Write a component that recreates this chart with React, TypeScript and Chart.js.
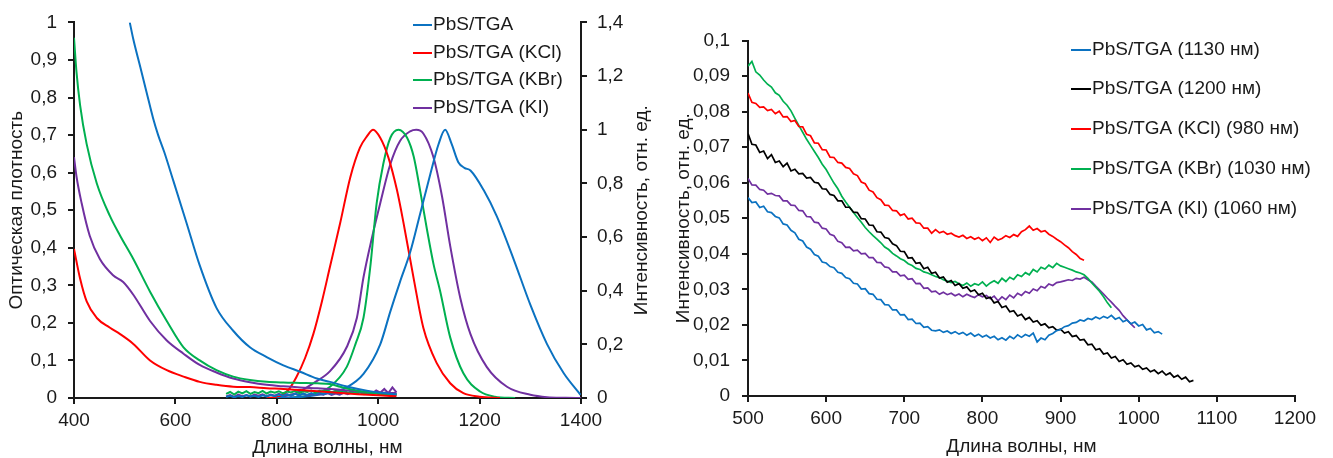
import React, { useEffect, useRef } from 'react';
import { Chart, registerables } from 'chart.js';

Chart.register(...registerables);

const FONT = '"Liberation Sans", Arial, sans-serif';
const TXT = '#1a1a1a';
const AXIS = '#1a1a1a';

// ---------------- Left chart data ----------------
const LEFT_LABELS = ['PbS/TGA', 'PbS/TGA (KCl)', 'PbS/TGA (KBr)', 'PbS/TGA (KI)'];
const LEFT_COLORS = ['#0b72c1', '#ff0000', '#00b050', '#7030a0'];

const LEFT_X_TICKS = [400, 600, 800, 1000, 1200, 1400];

// absorption (left axis)
const ABS_BLUE_X = [510, 517, 530, 543, 556, 566, 578, 596, 622, 648, 681, 714, 747, 780, 813, 846, 879, 905, 940, 980, 1010, 1036];
const ABS_BLUE_Y = [1.0, 0.955, 0.885, 0.815, 0.745, 0.7, 0.655, 0.578, 0.466, 0.353, 0.24, 0.179, 0.135, 0.109, 0.087, 0.07, 0.052, 0.043, 0.03, 0.019, 0.013, 0.01];

const ABS_RED_X = [400, 412, 425, 445, 471, 491, 517, 550, 583, 616, 648, 681, 714, 747, 780, 813, 846, 880, 920, 960, 1000, 1036];
const ABS_RED_Y = [0.397, 0.318, 0.257, 0.213, 0.187, 0.17, 0.144, 0.1, 0.074, 0.057, 0.043, 0.035, 0.03, 0.029, 0.026, 0.024, 0.021, 0.018, 0.014, 0.01, 0.007, 0.005];

const ABS_GREEN_X = [400, 405, 412, 425, 445, 471, 491, 517, 550, 583, 616, 648, 681, 714, 747, 780, 813, 846, 880, 905, 925, 950, 971, 1000, 1036];
const ABS_GREEN_Y = [0.959, 0.867, 0.78, 0.676, 0.571, 0.484, 0.432, 0.37, 0.283, 0.205, 0.135, 0.1, 0.074, 0.057, 0.048, 0.043, 0.041, 0.04, 0.039, 0.037, 0.03, 0.022, 0.017, 0.012, 0.008];

const ABS_PURPLE_X = [400, 405, 415, 431, 451, 477, 497, 517, 550, 583, 616, 648, 681, 714, 747, 780, 813, 846, 880, 905, 940, 980, 1010, 1036];
const ABS_PURPLE_Y = [0.641, 0.589, 0.519, 0.432, 0.37, 0.327, 0.309, 0.275, 0.205, 0.153, 0.118, 0.088, 0.068, 0.052, 0.042, 0.035, 0.031, 0.028, 0.026, 0.024, 0.02, 0.016, 0.014, 0.013];

// NIR absorption segments (left axis)
const NIR_X = [700, 708, 716, 724, 732, 740, 748, 756, 764, 772, 780, 788, 796, 804, 812, 820, 828, 836, 844, 852, 860, 868, 876, 884, 892, 900, 908, 916, 924, 932, 940, 948, 956, 964, 972, 980, 988, 996, 1004, 1012, 1020, 1028, 1036];
const NIR_GREEN_Y = [0.011, 0.016, 0.009, 0.017, 0.012, 0.018, 0.011, 0.016, 0.013, 0.019, 0.012, 0.017, 0.014, 0.018, 0.012, 0.017, 0.015, 0.019, 0.013, 0.018, 0.016, 0.02, 0.014, 0.019, 0.017, 0.021, 0.015, 0.019, 0.016, 0.02, 0.014, 0.018, 0.013, 0.017, 0.011, 0.016, 0.012, 0.015, 0.01, 0.014, 0.009, 0.013, 0.01];
const NIR_BLUE_Y = [0.003, 0.006, 0.002, 0.005, 0.003, 0.007, 0.004, 0.006, 0.003, 0.007, 0.004, 0.008, 0.005, 0.009, 0.005, 0.01, 0.006, 0.011, 0.007, 0.012, 0.008, 0.013, 0.009, 0.014, 0.01, 0.015, 0.011, 0.016, 0.012, 0.017, 0.012, 0.016, 0.011, 0.015, 0.01, 0.014, 0.01, 0.013, 0.009, 0.013, 0.008, 0.012, 0.009];
const NIR_PURPLE_Y = [0.004, 0.008, 0.003, 0.009, 0.005, 0.008, 0.004, 0.009, 0.006, 0.01, 0.005, 0.009, 0.006, 0.011, 0.007, 0.01, 0.006, 0.011, 0.008, 0.012, 0.007, 0.011, 0.008, 0.012, 0.009, 0.013, 0.008, 0.012, 0.009, 0.014, 0.01, 0.015, 0.011, 0.016, 0.012, 0.018, 0.012, 0.02, 0.014, 0.024, 0.013, 0.028, 0.015];

// photoluminescence (right axis)
const PL_BLUE_X = [800, 850, 900, 938, 971, 1004, 1024, 1043, 1063, 1083, 1103, 1119, 1132, 1145, 1158, 1170, 1182, 1208, 1234, 1267, 1300, 1333, 1366, 1399];
const PL_BLUE_Y = [0, 0.005, 0.018, 0.04, 0.09, 0.2, 0.323, 0.433, 0.543, 0.689, 0.836, 0.946, 1.0, 0.946, 0.879, 0.858, 0.848, 0.775, 0.677, 0.518, 0.348, 0.201, 0.092, 0.012];

const PL_RED_X = [780, 806, 823, 839, 856, 872, 889, 905, 925, 945, 964, 978, 990, 1004, 1020, 1037, 1050, 1070, 1089, 1116, 1142, 1168, 1200, 1240];
const PL_RED_Y = [0, 0.006, 0.03, 0.079, 0.15, 0.238, 0.36, 0.49, 0.652, 0.823, 0.933, 0.976, 1.0, 0.97, 0.897, 0.775, 0.652, 0.445, 0.262, 0.128, 0.055, 0.018, 0.005, 0];

const PL_GREEN_X = [820, 870, 905, 938, 955, 971, 984, 997, 1010, 1024, 1040, 1057, 1070, 1083, 1096, 1109, 1122, 1142, 1168, 1201, 1230, 1270];
const PL_GREEN_Y = [0, 0.012, 0.042, 0.116, 0.2, 0.299, 0.482, 0.726, 0.872, 0.97, 1.0, 0.97, 0.9, 0.77, 0.63, 0.5, 0.4, 0.226, 0.092, 0.024, 0.005, 0];

const PL_PURPLE_X = [800, 840, 872, 905, 938, 958, 971, 988, 1004, 1024, 1043, 1063, 1075, 1089, 1109, 1126, 1142, 1162, 1182, 1214, 1254, 1300, 1333, 1370, 1400];
const PL_PURPLE_Y = [0, 0.02, 0.055, 0.1, 0.19, 0.299, 0.45, 0.6, 0.726, 0.872, 0.958, 0.994, 1.0, 0.986, 0.897, 0.75, 0.567, 0.372, 0.238, 0.116, 0.042, 0.012, 0.003, 0.001, 0];

// ---------------- Right chart data ----------------
const RIGHT_LABELS = ['PbS/TGA (1130 нм)', 'PbS/TGA (1200 нм)', 'PbS/TGA (KCl) (980 нм)', 'PbS/TGA (KBr) (1030 нм)', 'PbS/TGA (KI) (1060 нм)'];
const RIGHT_COLORS = ['#0b72c1', '#000000', '#ff0000', '#00b050', '#7030a0'];

const WL_R = [500, 505, 510, 515, 520, 525, 530, 535, 540, 545, 550, 555, 560, 565, 570, 575, 580, 585, 590, 595, 600, 605, 610, 615, 620, 625, 630, 635, 640, 645, 650, 655, 660, 665, 670, 675, 680, 685, 690, 695, 700, 705, 710, 715, 720, 725, 730, 735, 740, 745, 750, 755, 760, 765, 770, 775, 780, 785, 790, 795, 800, 805, 810, 815, 820, 825, 830, 835, 840, 845, 850, 855, 860, 865, 870, 875, 880, 885, 890, 895, 900, 905, 910, 915, 920, 925, 930, 935, 940, 945, 950, 955, 960, 965, 970, 975, 980, 985, 990, 995, 1000, 1005, 1010, 1015, 1020, 1025, 1030, 1035, 1040, 1045, 1050, 1055, 1060, 1065, 1070];

const R_BLUE = [0.0558, 0.0544, 0.0546, 0.053, 0.0534, 0.0518, 0.0516, 0.0505, 0.0501, 0.0484, 0.0481, 0.0466, 0.0459, 0.0441, 0.0436, 0.0419, 0.0413, 0.0398, 0.0393, 0.0377, 0.0374, 0.0364, 0.0361, 0.0348, 0.0345, 0.0333, 0.033, 0.0317, 0.0315, 0.0301, 0.0302, 0.0288, 0.0286, 0.0272, 0.0271, 0.0257, 0.0256, 0.0242, 0.0242, 0.0228, 0.0229, 0.0215, 0.0216, 0.0204, 0.0205, 0.0193, 0.0195, 0.0185, 0.0183, 0.0186, 0.0179, 0.0183, 0.0176, 0.0181, 0.0174, 0.0179, 0.0171, 0.0177, 0.0168, 0.0174, 0.0166, 0.0171, 0.0163, 0.0168, 0.0158, 0.0164, 0.0157, 0.0168, 0.0161, 0.0172, 0.0165, 0.0173, 0.0168, 0.0177, 0.0152, 0.0163, 0.0158, 0.0171, 0.0176, 0.0184, 0.0187, 0.0195, 0.0198, 0.0205, 0.0207, 0.0214, 0.0211, 0.0218, 0.0215, 0.0222, 0.0217, 0.0224, 0.0219, 0.0227, 0.0216, 0.0221, 0.0209, 0.0214, 0.0203, 0.0208, 0.0197, 0.0201, 0.0186, 0.019, 0.0178, 0.0181, 0.0174];

const R_BLACK = [0.0738, 0.0708, 0.0706, 0.0685, 0.0689, 0.0668, 0.0679, 0.0657, 0.0661, 0.0645, 0.0655, 0.0633, 0.0638, 0.0625, 0.0626, 0.0613, 0.0615, 0.0601, 0.0599, 0.0583, 0.0582, 0.0567, 0.0564, 0.0549, 0.0549, 0.0531, 0.0531, 0.0517, 0.0516, 0.0499, 0.0498, 0.0481, 0.048, 0.0462, 0.0461, 0.0446, 0.0443, 0.0428, 0.0423, 0.0407, 0.0406, 0.0388, 0.0389, 0.0373, 0.0375, 0.0358, 0.0362, 0.0345, 0.0348, 0.0332, 0.0335, 0.032, 0.0325, 0.0311, 0.0316, 0.0303, 0.0307, 0.0294, 0.0298, 0.0285, 0.0289, 0.0274, 0.0278, 0.0262, 0.0266, 0.0249, 0.0253, 0.0237, 0.024, 0.0225, 0.023, 0.0215, 0.0221, 0.0208, 0.0212, 0.0199, 0.0203, 0.0192, 0.0195, 0.0185, 0.0188, 0.0177, 0.0181, 0.0167, 0.017, 0.0157, 0.0159, 0.0144, 0.0146, 0.013, 0.0133, 0.0118, 0.0121, 0.0107, 0.0111, 0.0097, 0.0102, 0.0089, 0.0093, 0.0082, 0.0086, 0.0075, 0.0079, 0.0068, 0.0073, 0.0063, 0.007, 0.0059, 0.0065, 0.0053, 0.0058, 0.0047, 0.0053, 0.004, 0.0044];

const R_RED = [0.0852, 0.0826, 0.0823, 0.0812, 0.0813, 0.0803, 0.0806, 0.0794, 0.0801, 0.0785, 0.0786, 0.0772, 0.0775, 0.0758, 0.0757, 0.0736, 0.0732, 0.0712, 0.0711, 0.0693, 0.0692, 0.0672, 0.0671, 0.0657, 0.0655, 0.0643, 0.064, 0.0625, 0.062, 0.0602, 0.0597, 0.0579, 0.0574, 0.0558, 0.0552, 0.0537, 0.0536, 0.0522, 0.0521, 0.0508, 0.0512, 0.0498, 0.05, 0.0487, 0.0486, 0.0472, 0.0472, 0.0458, 0.0468, 0.0459, 0.0463, 0.0455, 0.0458, 0.0451, 0.0447, 0.0452, 0.0443, 0.0448, 0.0441, 0.0446, 0.0437, 0.0445, 0.0432, 0.0447, 0.0439, 0.0443, 0.0451, 0.0446, 0.0454, 0.0449, 0.0462, 0.0468, 0.0478, 0.0466, 0.0471, 0.0462, 0.0465, 0.0455, 0.0449, 0.0441, 0.0434, 0.0425, 0.0417, 0.0406, 0.0398, 0.0387, 0.0382];

const R_GREEN = [0.0928, 0.0941, 0.0912, 0.0903, 0.0889, 0.0877, 0.0869, 0.0853, 0.0846, 0.0829, 0.0818, 0.0802, 0.0781, 0.0761, 0.0742, 0.0722, 0.0705, 0.0688, 0.0671, 0.0652, 0.0637, 0.0618, 0.0599, 0.0583, 0.0562, 0.0546, 0.0531, 0.0516, 0.0502, 0.0489, 0.0474, 0.0462, 0.0451, 0.0441, 0.0431, 0.0419, 0.0412, 0.0401, 0.0394, 0.0386, 0.0381, 0.0372, 0.0367, 0.0359, 0.0356, 0.0349, 0.0346, 0.0341, 0.0336, 0.0333, 0.0327, 0.0323, 0.0319, 0.0322, 0.0316, 0.0311, 0.0318, 0.0309, 0.0316, 0.0312, 0.0321, 0.0309, 0.0318, 0.0324, 0.0317, 0.0331, 0.0322, 0.0334, 0.0328, 0.0341, 0.0336, 0.0347, 0.0341, 0.0356, 0.0349, 0.0362, 0.0357, 0.0368, 0.0361, 0.0373, 0.0366, 0.0362, 0.0358, 0.0354, 0.0349, 0.0346, 0.0341, 0.0331, 0.0318, 0.0306, 0.0294, 0.0279, 0.0262, 0.0248];

const R_PURPLE = [0.0612, 0.0594, 0.0593, 0.0581, 0.0579, 0.0568, 0.057, 0.0564, 0.0563, 0.0549, 0.0549, 0.0537, 0.0536, 0.0522, 0.0521, 0.0505, 0.0504, 0.0489, 0.0487, 0.0472, 0.047, 0.0455, 0.0451, 0.0435, 0.0431, 0.0418, 0.0419, 0.0408, 0.041, 0.04, 0.0401, 0.0389, 0.0389, 0.0376, 0.0375, 0.0363, 0.0361, 0.0349, 0.0349, 0.0338, 0.034, 0.0328, 0.033, 0.0316, 0.0317, 0.0303, 0.0304, 0.0293, 0.0295, 0.0286, 0.0292, 0.0285, 0.0289, 0.0282, 0.0287, 0.0279, 0.0286, 0.0281, 0.0277, 0.0285, 0.0279, 0.0283, 0.0274, 0.0281, 0.0268, 0.0279, 0.0271, 0.0284, 0.0276, 0.0289, 0.0283, 0.0294, 0.0289, 0.0301, 0.0296, 0.0308, 0.0304, 0.0315, 0.0311, 0.0319, 0.0321, 0.0324, 0.0327, 0.0325, 0.0331, 0.0329, 0.0334, 0.0327, 0.0321, 0.0309, 0.0298, 0.0287, 0.0275, 0.0264, 0.0252, 0.0241, 0.0226, 0.0214, 0.0203, 0.0192];

const RIGHT_X_TICKS = [500, 600, 700, 800, 900, 1000, 1100, 1200];

// ---------------- helpers ----------------
const pts = (xs: number[], ys: number[]) => ys.map((y, i) => ({ x: xs[i], y }));
const fmt = (v: number) => String(Number(Number(v).toFixed(3))).replace('.', ',');

const tickGrid = { display: true, drawOnChartArea: false, drawTicks: true, tickLength: 6, color: AXIS, lineWidth: 2 };
const border = { display: true, color: AXIS, width: 2 };

function legendPlugin(x0: number, x1: number, tx: number, ys: number[], count: number) {
  return {
    id: 'customLegend',
    afterDraw(chart: any) {
      const ctx = chart.ctx;
      ctx.save();
      ctx.font = `19px ${FONT}`;
      ctx.textBaseline = 'middle';
      ctx.textAlign = 'left';
      for (let i = 0; i < count; i++) {
        const ds = chart.data.datasets[i];
        ctx.strokeStyle = ds.borderColor;
        ctx.lineWidth = 2;
        ctx.beginPath();
        ctx.moveTo(x0, ys[i]);
        ctx.lineTo(x1, ys[i]);
        ctx.stroke();
        ctx.fillStyle = TXT;
        ctx.fillText(ds.label, tx, ys[i]);
      }
      ctx.restore();
    },
  };
}

const rightTitlePlugin = {
  id: 'rightTitle',
  afterDraw(chart: any) {
    const ctx = chart.ctx;
    const area = chart.chartArea;
    ctx.save();
    ctx.font = `19px ${FONT}`;
    ctx.fillStyle = TXT;
    ctx.textAlign = 'center';
    ctx.textBaseline = 'middle';
    ctx.translate(641.5, (area.top + area.bottom) / 2);
    ctx.rotate(-Math.PI / 2);
    ctx.fillText('Интенсивность, отн. ед.', 0, 0);
    ctx.restore();
  },
};

function LeftChart() {
  const ref = useRef<HTMLCanvasElement>(null);
  useEffect(() => {
    const absX = [ABS_BLUE_X, ABS_RED_X, ABS_GREEN_X, ABS_PURPLE_X];
    const absY = [ABS_BLUE_Y, ABS_RED_Y, ABS_GREEN_Y, ABS_PURPLE_Y];
    const plX = [PL_BLUE_X, PL_RED_X, PL_GREEN_X, PL_PURPLE_X];
    const plY = [PL_BLUE_Y, PL_RED_Y, PL_GREEN_Y, PL_PURPLE_Y];
    const datasets: any[] = [];
    LEFT_LABELS.forEach((label, i) => {
      datasets.push({
        label, data: pts(absX[i], absY[i]), yAxisID: 'y', borderColor: LEFT_COLORS[i],
        borderWidth: 2, pointRadius: 0, cubicInterpolationMode: 'monotone', fill: false,
      });
    });
    const nir = [NIR_GREEN_Y, NIR_BLUE_Y, NIR_PURPLE_Y];
    const nirColors = [LEFT_COLORS[2], LEFT_COLORS[0], LEFT_COLORS[3]];
    nir.forEach((ys, i) => {
      datasets.push({
        label: 'nir' + i, data: pts(NIR_X, ys), yAxisID: 'y', borderColor: nirColors[i],
        borderWidth: 2, pointRadius: 0, tension: 0, fill: false,
      });
    });
    LEFT_LABELS.forEach((label, i) => {
      datasets.push({
        label: label + ' PL', data: pts(plX[i], plY[i]), yAxisID: 'y1', borderColor: LEFT_COLORS[i],
        borderWidth: 2, pointRadius: 0, cubicInterpolationMode: 'monotone', fill: false,
      });
    });
    const chart = new Chart(ref.current!, {
      type: 'line',
      data: { datasets },
      options: {
        responsive: false,
        animation: false,
        layout: { padding: { top: 16, right: 0, bottom: 0, left: 0 } },
        plugins: { legend: { display: false }, tooltip: { enabled: false } },
        scales: {
          x: {
            type: 'linear', min: 400, max: 1400,
            afterBuildTicks: (s: any) => { s.ticks = LEFT_X_TICKS.map((v) => ({ value: v })); },
            afterFit: (s: any) => { s.height = 60; },
            ticks: { callback: (v: any) => String(v), color: TXT, font: { size: 19, family: FONT }, padding: 5, maxRotation: 0 },
            grid: tickGrid, border,
            title: { display: true, text: 'Длина волны, нм', color: TXT, font: { size: 19, family: FONT, lineHeight: 1.05 }, padding: { top: 0, bottom: 0 } },
          },
          y: {
            type: 'linear', position: 'left', min: 0, max: 1,
            afterFit: (s: any) => { s.width = 74; },
            ticks: { stepSize: 0.1, callback: (v: any) => fmt(v), color: TXT, font: { size: 19, family: FONT }, padding: 11 },
            grid: tickGrid, border,
            title: { display: true, text: 'Оптическая плотность', color: TXT, font: { size: 19, family: FONT }, padding: { top: 5, bottom: 0 } },
          },
          y1: {
            type: 'linear', position: 'right', min: 0, max: 1.4,
            afterFit: (s: any) => { s.width = 79; },
            ticks: { stepSize: 0.2, callback: (v: any) => fmt(v), color: TXT, font: { size: 19, family: FONT }, padding: 10 },
            grid: tickGrid, border,
          },
        },
      } as any,
      plugins: [legendPlugin(413, 432, 433, [25, 53, 80, 108], 4), rightTitlePlugin],
    });
    return () => chart.destroy();
  }, []);
  return <canvas ref={ref} width={660} height={458} style={{ position: 'absolute', left: 0, top: 0 }} />;
}

function RightChart() {
  const ref = useRef<HTMLCanvasElement>(null);
  useEffect(() => {
    const series = [R_BLUE, R_BLACK, R_RED, R_GREEN, R_PURPLE];
    const datasets = RIGHT_LABELS.map((label, i) => ({
      label, data: pts(WL_R, series[i]), borderColor: RIGHT_COLORS[i],
      borderWidth: 1.7, pointRadius: 0, tension: 0, fill: false,
    }));
    const chart = new Chart(ref.current!, {
      type: 'line',
      data: { datasets },
      options: {
        responsive: false,
        animation: false,
        layout: { padding: { top: 40.5, right: 38, bottom: 0, left: 0 } },
        plugins: { legend: { display: false }, tooltip: { enabled: false } },
        scales: {
          x: {
            type: 'linear', min: 500, max: 1200,
            afterBuildTicks: (s: any) => { s.ticks = RIGHT_X_TICKS.map((v) => ({ value: v })); },
            afterFit: (s: any) => { s.height = 62; },
            ticks: { callback: (v: any) => String(v), color: TXT, font: { size: 19, family: FONT }, padding: 5, maxRotation: 0 },
            grid: tickGrid, border,
            title: { display: true, text: 'Длина волны, нм', color: TXT, font: { size: 19, family: FONT }, padding: { top: 0, bottom: 0 } },
          },
          y: {
            type: 'linear', position: 'left', min: 0, max: 0.1,
            afterFit: (s: any) => { s.width = 88; },
            ticks: { stepSize: 0.01, callback: (v: any) => fmt(v), color: TXT, font: { size: 19, family: FONT }, padding: 12 },
            grid: tickGrid, border,
            title: { display: true, text: 'Интенсивность, отн. ед.', color: TXT, font: { size: 19, family: FONT }, padding: { top: 12.6, bottom: 0 } },
          },
        },
      } as any,
      plugins: [legendPlugin(411, 431, 432, [50, 89, 129, 169, 209], 5)],
    });
    return () => chart.destroy();
  }, []);
  return <canvas ref={ref} width={673} height={458} style={{ position: 'absolute', left: 660, top: 0 }} />;
}

export default function App() {
  return (
    <div style={{ position: 'absolute', left: 0, top: 0, width: 1333, height: 458, background: '#fff', overflow: 'hidden' }}>
      <LeftChart />
      <RightChart />
    </div>
  );
}
